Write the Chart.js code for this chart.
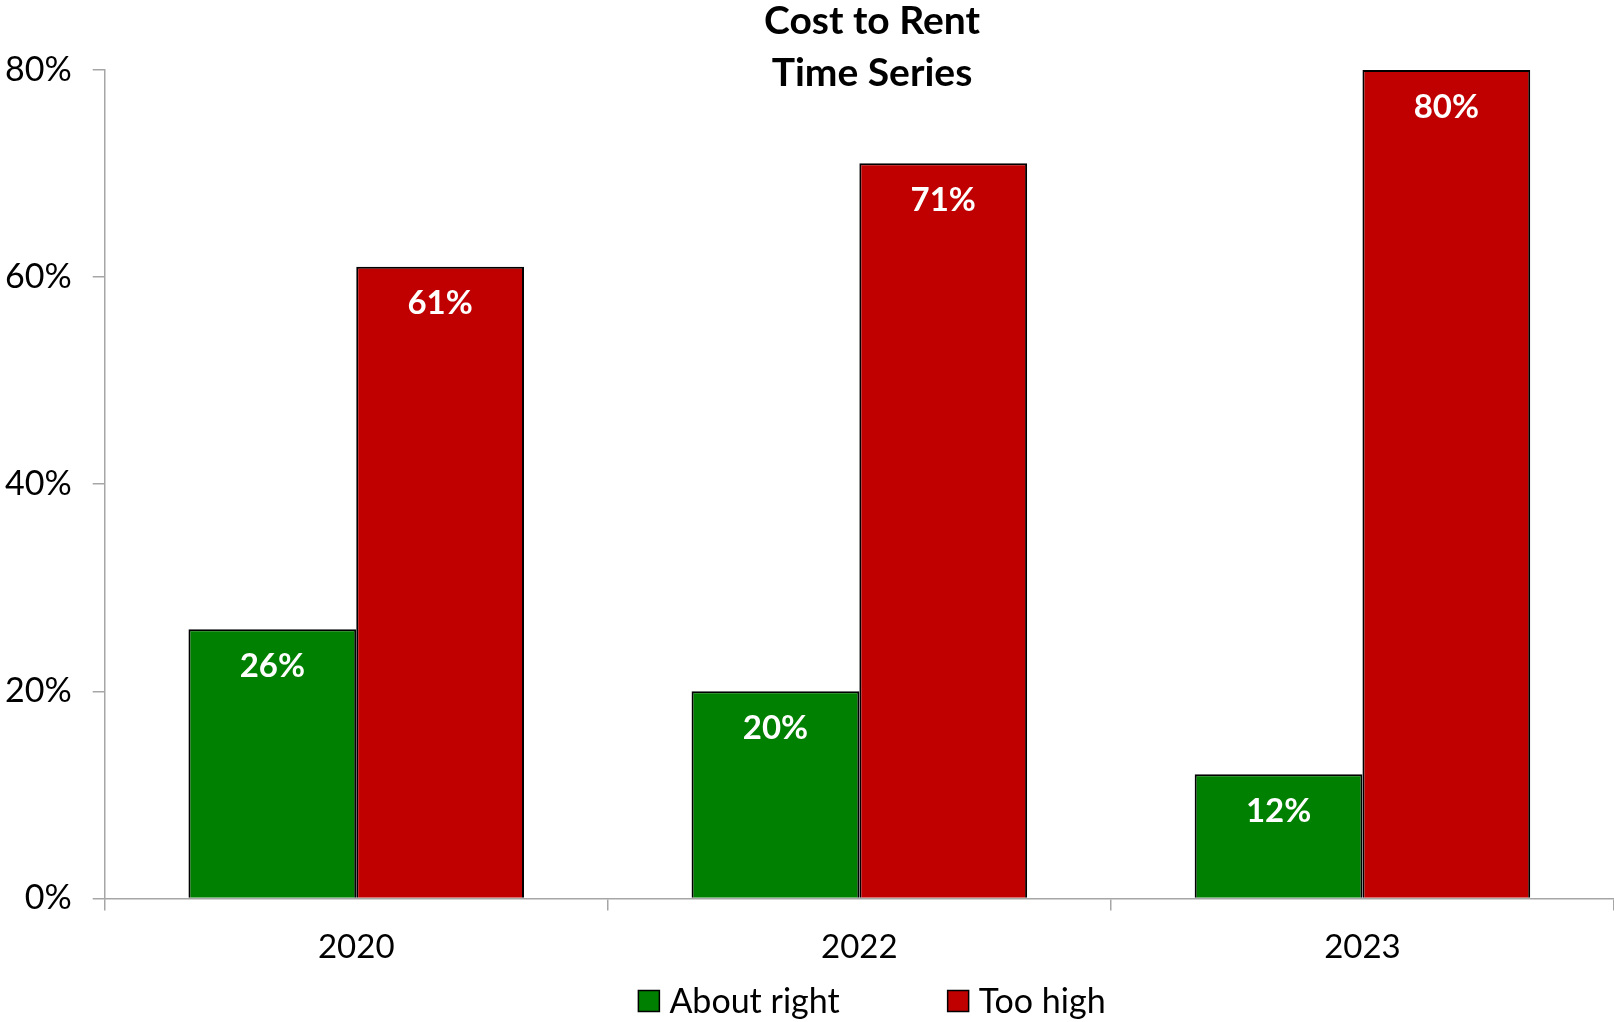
<!DOCTYPE html>
<html>
<head>
<meta charset="utf-8">
<script src="https://cdn.jsdelivr.net/npm/chart.js@4.4.0/dist/chart.umd.min.js"></script>
<style>
    html, body { margin: 0; padding: 0; background: #fff; }
</style>
</head>
<body>
<canvas id="rent-chart" width="1614" height="1022"></canvas>
<script>
// chart values
const years = ['2020', '2022', '2023'];
const aboutRight = [26, 20, 12];
const tooHigh = [61, 71, 80];
const seriesNames = ['About right', 'Too high'];
const seriesColors = ['#008000', '#C00000'];
const yTicks = [0, 20, 40, 60, 80];
const titleLines = ['Cost to Rent', 'Time Series'];

const FONT = 'Lato';

/**
 * Draws value labels inside bars, the two-line title and the legend row
 */
const overlayPlugin = {
    id: 'overlay',
    afterDatasetsDraw: function(chart) {
        const ctx = chart.ctx;
        ctx.save();

        // value labels
        ctx.fillStyle = '#fff';
        ctx.font = 'bold 33px ' + FONT;
        ctx.textAlign = 'center';
        ctx.textBaseline = 'middle';
        chart.data.datasets.forEach((ds, i) => {
            chart.getDatasetMeta(i).data.forEach((bar, j) => {
                ctx.fillText(ds.data[j] + '%', bar.x, bar.y + 37);
            });
        });

        // title
        ctx.fillStyle = '#000';
        ctx.font = 'bold 39px ' + FONT;
        ctx.textBaseline = 'alphabetic';
        titleLines.forEach((t, k) => ctx.fillText(t, 872, 34 + k * 52));

        // legend
        ctx.font = '34px ' + FONT;
        ctx.textAlign = 'left';
        ctx.textBaseline = 'middle';
        const box = 21, gap = 10, between = 108;
        const widths = seriesNames.map(n => ctx.measureText(n).width);
        const total = widths.reduce((a, w) => a + box + gap + w, 0) + between;
        let x = 872 - total / 2;
        const cy = 1001;
        seriesNames.forEach((n, i) => {
            ctx.fillStyle = seriesColors[i];
            ctx.fillRect(x, cy - box / 2, box, box);
            ctx.strokeStyle = '#000';
            ctx.lineWidth = 1.5;
            ctx.strokeRect(x, cy - box / 2, box, box);
            ctx.fillStyle = '#000';
            ctx.fillText(n, x + box + gap, cy + 1);
            x += box + gap + widths[i] + between;
        });
        ctx.restore();
    }
};

const ctx = document.getElementById('rent-chart').getContext('2d');
new Chart(ctx, {
    type: 'bar',
    data: {
        labels: years,
        datasets: [
            {
                label: seriesNames[0],
                data: aboutRight,
                backgroundColor: seriesColors[0],
                borderColor: '#000',
                borderWidth: 2
            },
            {
                label: seriesNames[1],
                data: tooHigh,
                backgroundColor: seriesColors[1],
                borderColor: '#000',
                borderWidth: 2
            }
        ]
    },
    options: {
        responsive: false,
        animation: false,
        barPercentage: 1,
        categoryPercentage: 0.667,
        layout: {
            padding: { top: 70, left: -16, right: 0, bottom: 38 }
        },
        plugins: {
            legend: { display: false },
            title: { display: false },
            tooltip: { enabled: false }
        },
        scales: {
            x: {
                grid: {
                    drawOnChartArea: false,
                    tickLength: 12,
                    color: '#A6A6A6',
                    lineWidth: 1.5
                },
                border: { color: '#A6A6A6', width: 1.5 },
                ticks: {
                    color: '#000',
                    font: { family: FONT, size: 33 },
                    padding: 17
                }
            },
            y: {
                min: 0,
                max: 80,
                afterBuildTicks: function(axis) {
                    axis.ticks = yTicks.map(v => ({ value: v }));
                },
                grid: {
                    drawOnChartArea: false,
                    tickLength: 12,
                    color: '#A6A6A6',
                    lineWidth: 1.5
                },
                border: { color: '#A6A6A6', width: 1.5 },
                ticks: {
                    color: '#000',
                    font: { family: FONT, size: 34 },
                    padding: 21,
                    callback: function(value) {
                        return value + '%';
                    }
                }
            }
        }
    },
    plugins: [overlayPlugin]
});
</script>
</body>
</html>
